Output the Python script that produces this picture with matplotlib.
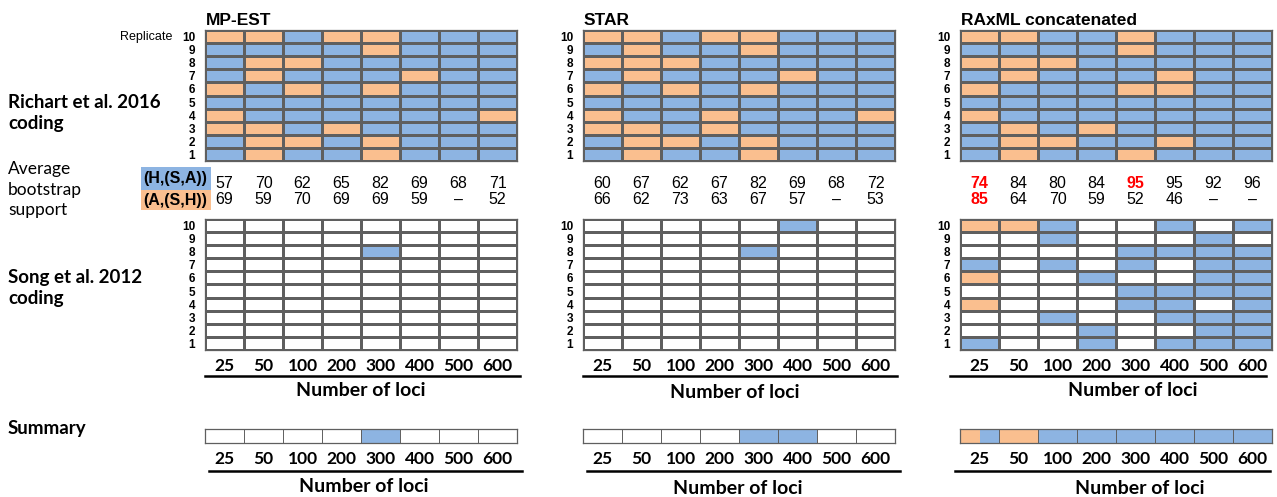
import numpy as np
import matplotlib.pyplot as plt
from matplotlib.colors import ListedColormap
from matplotlib.lines import Line2D
from matplotlib.patches import Rectangle
from matplotlib.transforms import blended_transform_factory

W, H = 1277, 497

loci = ['25', '50', '100', '200', '300', '400', '500', '600']
replicates = ['10', '9', '8', '7', '6', '5', '4', '3', '2', '1']
methods = ['MP-EST', 'STAR', 'RAxML concatenated']

# one string per replicate (10 at top), one letter per locus count
# B = (H,(S,A)), O = (A,(S,H)), W = not recovered
richart_mpest = ['OOBOOBBB', 'BBBBOBBB', 'BOOBBBBB', 'BOBBBOBB', 'OBOBOBBB',
                 'BBBBBBBB', 'OBBBBBBO', 'OOBOBBBB', 'BOOBOBBB', 'BOBBOBBB']
richart_star = ['OOBOOBBB', 'BOBBOBBB', 'OOOBBBBB', 'BOBBBOBB', 'OBOBOBBB',
                'BBBBBBBB', 'OBBOBBBO', 'OOBOBBBB', 'BOOBOBBB', 'BOBBOBBB']
richart_raxml = ['OOBBOBBB', 'BBBBOBBB', 'OOOBBBBB', 'BOBBBOBB', 'OBBBOOBB',
                 'BBBBBBBB', 'OBBBBBBB', 'BOBOBBBB', 'BOOBBOBB', 'BOBBOBBB']

song_mpest = ['WWWWWWWW', 'WWWWWWWW', 'WWWWBWWW', 'WWWWWWWW', 'WWWWWWWW',
              'WWWWWWWW', 'WWWWWWWW', 'WWWWWWWW', 'WWWWWWWW', 'WWWWWWWW']
song_star = ['WWWWWBWW', 'WWWWWWWW', 'WWWWBWWW', 'WWWWWWWW', 'WWWWWWWW',
             'WWWWWWWW', 'WWWWWWWW', 'WWWWWWWW', 'WWWWWWWW', 'WWWWWWWW']
song_raxml = ['OOBWWBWB', 'WWBWWWBW', 'WWWWBBBB', 'BWBWBWBB', 'OWWBWWBB',
              'WWWWBBBB', 'OWWWBBWB', 'WWBWWBBB', 'WWWBWWBB', 'BWWBWBBB']

# average bootstrap support per locus count (None = topology never recovered)
boot_hsa_mpest = [57, 70, 62, 65, 82, 69, 68, 71]
boot_ash_mpest = [69, 59, 70, 69, 69, 59, None, 52]
boot_hsa_star = [60, 67, 62, 67, 82, 69, 68, 72]
boot_ash_star = [66, 62, 73, 63, 67, 57, None, 53]
boot_hsa_raxml = [74, 84, 80, 84, 95, 95, 92, 96]
boot_ash_raxml = [85, 64, 70, 59, 52, 46, None, None]
red_hsa_raxml = [True, False, False, False, True, False, False, False]
red_ash_raxml = [True, False, False, False, False, False, False, False]

# summary share of each topology per locus count
summary_hsa_mpest = [0, 0, 0, 0, 1, 0, 0, 0]
summary_ash_mpest = [0, 0, 0, 0, 0, 0, 0, 0]
summary_hsa_star = [0, 0, 0, 0, 1, 1, 0, 0]
summary_ash_star = [0, 0, 0, 0, 0, 0, 0, 0]
summary_hsa_raxml = [0.5, 0, 1, 1, 1, 1, 1, 1]
summary_ash_raxml = [0.5, 1, 0, 0, 0, 0, 0, 0]

BLUE = '#8DB4E2'
ORANGE = '#FABF8F'
EDGE = '#5F5F5F'
ARIAL = 'Liberation Sans'
MYRIAD = 'Lato'

code = {'W': 0, 'B': 1, 'O': 2}
cmap = ListedColormap(['white', BLUE, ORANGE])

fig = plt.figure(figsize=(W / 100, H / 100), dpi=100)


def fx(x):
    return x / W


def fy(y):
    return 1 - y / H


def box(x0, y0, x1, y1):
    return [fx(x0), fy(y1), (x1 - x0) / W, (y1 - y0) / H]


def style_frame(ax):
    for s in ax.spines.values():
        s.set_color(EDGE)
        s.set_linewidth(0.9)


def draw_grid(x0, x1, y0, y1, rows, xlabels):
    ax = fig.add_axes(box(x0, y0, x1, y1))
    z = np.array([[code[c] for c in r] for r in rows])
    ax.pcolormesh(z, cmap=cmap, vmin=0, vmax=2, edgecolors=EDGE, linewidth=0.9)
    ax.set_xlim(0, len(loci))
    ax.set_ylim(len(replicates), 0)
    ax.set_yticks(np.arange(len(replicates)) + 0.5, replicates,
                  fontfamily=ARIAL, fontweight='bold', fontsize=8.5)
    ax.tick_params(axis='y', length=0, pad=7)
    if xlabels:
        ax.set_xticks(np.arange(len(loci)) + 0.5, loci,
                      fontfamily=MYRIAD, fontweight='bold', fontsize=12.5)
        ax.tick_params(axis='x', length=0, pad=5.5)
    else:
        ax.set_xticks([])
    style_frame(ax)
    return ax


def draw_summary(x0, x1, y0, y1, hsa, ash):
    ax = fig.add_axes(box(x0, y0, x1, y1))
    x = np.arange(len(loci))
    ax.bar(x, 1, width=ash, align='edge', color=ORANGE, linewidth=0)
    ax.bar(x + np.array(ash), 1, width=hsa, align='edge', color=BLUE, linewidth=0)
    ax.vlines(np.arange(1, len(loci)), 0, 1, color=EDGE, linewidth=0.7)
    ax.set_xlim(0, len(loci))
    ax.set_ylim(0, 1)
    ax.set_yticks([])
    ax.set_xticks(x + 0.5, loci, fontfamily=MYRIAD, fontweight='bold', fontsize=12.5)
    ax.tick_params(axis='x', length=0, pad=6)
    style_frame(ax)
    return ax


panel_x = [(205, 517), (583, 895), (960, 1272)]
richart = [richart_mpest, richart_star, richart_raxml]
song = [song_mpest, song_star, song_raxml]
boot_hsa = [boot_hsa_mpest, boot_hsa_star, boot_hsa_raxml]
boot_ash = [boot_ash_mpest, boot_ash_star, boot_ash_raxml]
red_hsa = [[False] * 8, [False] * 8, red_hsa_raxml]
red_ash = [[False] * 8, [False] * 8, red_ash_raxml]
summary_hsa = [summary_hsa_mpest, summary_hsa_star, summary_hsa_raxml]
summary_ash = [summary_ash_mpest, summary_ash_star, summary_ash_raxml]

song_line = [(205, 520), (583, 897), (950, 1266)]
summary_line = [(209, 522), (587, 900), (955, 1270)]
song_loci_label = [(361, 390), (735, 392), (1133, 390)]
summary_loci_label = [(364, 486), (738, 489), (1140, 489)]

for i, (x0, x1) in enumerate(panel_x):
    top = draw_grid(x0, x1, 30, 161, richart[i], False)
    fig.text(fx(x0 + 1), fy(25), methods[i], fontfamily=ARIAL, fontweight='bold',
             fontsize=12.5, ha='left', va='baseline')

    # bootstrap averages under each locus column
    trans = blended_transform_factory(top.transData, fig.transFigure)
    for j in range(len(loci)):
        for vals, reds, yy in ((boot_hsa[i], red_hsa[i], 183), (boot_ash[i], red_ash[i], 200)):
            v = vals[j]
            txt = '–' if v is None else str(v)
            fig.text(j + 0.5, fy(yy), txt, transform=trans, ha='center', va='center',
                     fontfamily=ARIAL, fontsize=11.5,
                     color='red' if reds[j] else 'black',
                     fontweight='bold' if reds[j] else 'normal')

    draw_grid(x0, x1, 219, 350, song[i], True)
    lx0, lx1 = song_line[i]
    fig.add_artist(Line2D([fx(lx0), fx(lx1)], [fy(376), fy(376)], color='black', linewidth=1.8))
    cx, cy = song_loci_label[i]
    fig.text(fx(cx), fy(cy), 'Number of loci', fontfamily=MYRIAD, fontweight='bold',
             fontsize=14, ha='center', va='center')

    draw_summary(x0, x1, 429, 443, summary_hsa[i], summary_ash[i])
    lx0, lx1 = summary_line[i]
    fig.add_artist(Line2D([fx(lx0), fx(lx1)], [fy(471), fy(471)], color='black', linewidth=1.8))
    cx, cy = summary_loci_label[i]
    fig.text(fx(cx), fy(cy), 'Number of loci', fontfamily=MYRIAD, fontweight='bold',
             fontsize=14, ha='center', va='center')

fig.text(fx(172), fy(37), 'Replicate', fontfamily=ARIAL, fontsize=9, ha='right', va='center')

# row labels on the left
for s, yy in (('Richart et al. 2016', 108), ('coding', 129),
              ('Song et al. 2012', 283), ('coding', 304), ('Summary', 434)):
    fig.text(fx(8), fy(yy), s, fontfamily=MYRIAD, fontweight='bold', fontsize=13.5,
             ha='left', va='baseline')
for s, yy in (('Average', 174), ('bootstrap', 195), ('support', 215)):
    fig.text(fx(8), fy(yy), s, fontfamily=MYRIAD, fontsize=12.5, ha='left', va='baseline')

# topology key next to the bootstrap values
for label, color, y0, y1 in (('(H,(S,A))', BLUE, 167, 190), ('(A,(S,H))', ORANGE, 190, 210)):
    fig.add_artist(Rectangle((fx(141), fy(y1)), (211 - 141) / W, (y1 - y0) / H,
                             transform=fig.transFigure, facecolor=color, edgecolor='none'))
    fig.text(fx(175), fy((y0 + y1) / 2), label, fontfamily=ARIAL, fontweight='bold',
             fontsize=11.5, ha='center', va='center')

fig.savefig('out.png', dpi=100)
